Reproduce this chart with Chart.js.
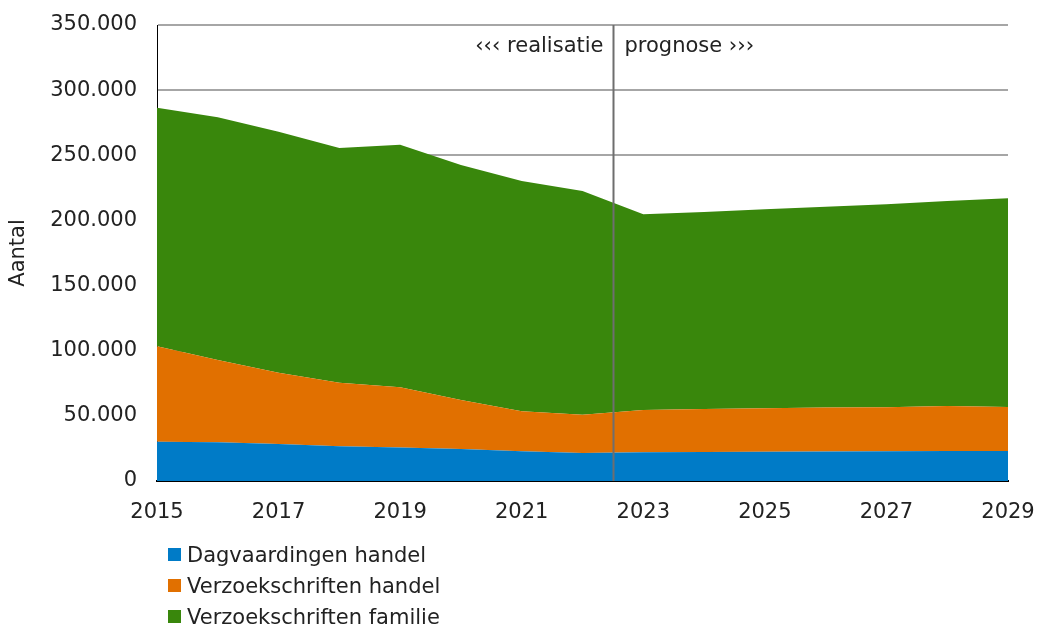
<!DOCTYPE html>
<html>
<head>
<meta charset="utf-8">
<script src="https://cdn.jsdelivr.net/npm/chart.js@4.4.1/dist/chart.umd.min.js"></script>
<style>
  html, body { margin: 0; padding: 0; background: #fff; }
  #wrap { position: relative; width: 1041px; height: 630px; }
  #legend { position: absolute; left: 168px; top: 539px; font-family: "DejaVu Sans", Verdana, sans-serif; font-size: 21px; color: #222; }
  #legend .item { display: flex; align-items: center; height: 31px; }
  #legend .box { width: 13px; height: 13px; margin-right: 6px; }
</style>
</head>
<body>
<div id="wrap">
  <canvas id="c" width="1041" height="630"></canvas>
  <div id="legend"></div>
</div>
<script>
// Years on the horizontal axis
const years = [2015, 2016, 2017, 2018, 2019, 2020, 2021, 2022, 2023, 2024, 2025, 2026, 2027, 2028, 2029];

// Yearly counts per case type (stacked)
const dagvaardingenHandel = [30200, 29700, 28400, 26600, 25800, 24600, 22800, 21500, 22000, 22300, 22500, 22700, 22900, 23000, 23000];
const verzoekschriftenHandel = [73200, 63200, 54700, 48900, 46100, 37600, 30700, 29400, 32500, 33000, 33300, 33800, 33800, 34500, 33800];
const verzoekschriftenFamilie = [183100, 186200, 185000, 180100, 186200, 180300, 176750, 171700, 150200, 151200, 152700, 154000, 155800, 157500, 160200];

const seriesLabels = ['Dagvaardingen handel', 'Verzoekschriften handel', 'Verzoekschriften familie'];
const seriesColors = ['#007BC7', '#E17000', '#39870C'];

// Boundary between realised figures and forecast
const splitYear = 2022.5;
const splitLabels = ['\u2039\u2039\u2039 realisatie', 'prognose \u203A\u203A\u203A'];

const FONT = '"DejaVu Sans", Verdana, sans-serif';
const FONT_SIZE = 21;

function toPoints(values) {
  return values.map((v, i) => ({ x: years[i], y: v }));
}

const seriesValues = [dagvaardingenHandel, verzoekschriftenHandel, verzoekschriftenFamilie];

const datasets = seriesValues.map((vals, i) => ({
  label: seriesLabels[i],
  data: toPoints(vals),
  backgroundColor: seriesColors[i],
  borderWidth: 0,
  pointRadius: 0,
  tension: 0,
  fill: i === 0 ? 'origin' : '-1'
}));

// Vertical split line with its two captions
const splitPlugin = {
  id: 'splitLine',
  afterDatasetsDraw(chart) {
    const { ctx, chartArea, scales } = chart;
    const x = Math.round(scales.x.getPixelForValue(splitYear)) + 0.5;
    ctx.save();
    ctx.strokeStyle = '#6e6e6e';
    ctx.lineWidth = 2;
    ctx.beginPath();
    ctx.moveTo(x, chartArea.top);
    ctx.lineTo(x, chartArea.bottom);
    ctx.stroke();
    ctx.fillStyle = '#222';
    ctx.font = FONT_SIZE + 'px ' + FONT;
    ctx.textBaseline = 'middle';
    ctx.textAlign = 'right';
    ctx.fillText(splitLabels[0], x - 10, chartArea.top + 22);
    ctx.textAlign = 'left';
    ctx.fillText(splitLabels[1], x + 11, chartArea.top + 22);
    ctx.restore();
  }
};

const nlFormat = new Intl.NumberFormat('nl-NL');

new Chart(document.getElementById('c'), {
  type: 'line',
  data: { datasets },
  plugins: [splitPlugin],
  options: {
    responsive: false,
    animation: false,
    layout: { padding: { left: 0, right: 33, top: 25, bottom: 99 } },
    plugins: {
      legend: { display: false },
      tooltip: { enabled: false }
    },
    scales: {
      x: {
        type: 'linear',
        min: 2015,
        max: 2029,
        grid: { display: false },
        border: { display: true, color: '#000', width: 2 },
        ticks: {
          stepSize: 2,
          color: '#222',
          font: { family: FONT, size: FONT_SIZE },
          padding: 11,
          maxRotation: 0,
          callback: v => String(v)
        },
        afterFit(scale) {
          scale.height = 50;
          scale.paddingLeft = 0;
          scale.paddingRight = 0;
        }
      },
      y: {
        stacked: true,
        min: 0,
        max: 350000,
        grid: { color: '#a6a6a6', lineWidth: 2, drawTicks: false },
        border: { display: true, color: '#000', width: 1 },
        ticks: {
          stepSize: 50000,
          color: '#222',
          font: { family: FONT, size: FONT_SIZE },
          padding: 20,
          callback: v => nlFormat.format(v)
        },
        title: {
          display: true,
          text: 'Aantal',
          color: '#222',
          font: { family: FONT, size: FONT_SIZE },
          padding: { top: 6, bottom: 0 }
        },
        afterFit(scale) {
          scale.width = 157;
          scale.paddingTop = 0;
          scale.paddingBottom = 0;
        }
      }
    }
  }
});

// Legend, one entry per row
const legend = document.getElementById('legend');
seriesLabels.forEach((label, i) => {
  const item = document.createElement('div');
  item.className = 'item';
  const box = document.createElement('span');
  box.className = 'box';
  box.style.background = seriesColors[i];
  const text = document.createElement('span');
  text.textContent = label;
  item.appendChild(box);
  item.appendChild(text);
  legend.appendChild(item);
});
</script>
</body>
</html>
